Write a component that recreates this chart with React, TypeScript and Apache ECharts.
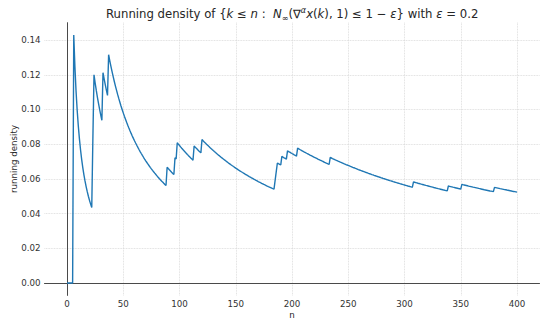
import React, { useEffect, useRef } from "react";
import * as echarts from "echarts";

// indices k (0..400) that belong to the set {k <= n : N_inf(...) <= 1 - eps}
const hitIndices = [6, 23, 24, 32, 37, 89, 96, 98, 113, 120, 185, 186, 187, 191, 196, 205, 234, 308, 339, 351, 380];
const nMax = 400;
const xTicks = [0, 50, 100, 150, 200, 250, 300, 350, 400];
const yTicks = [0, 0.02, 0.04, 0.06, 0.08, 0.1, 0.12, 0.14];

function buildRunningDensity(): [number, number][] {
  const hits = new Set(hitIndices);
  const out: [number, number][] = [];
  let count = 0;
  for (let n = 0; n <= nMax; n++) {
    if (hits.has(n)) count++;
    out.push([n, count / (n + 1)]);
  }
  return out;
}

export default function App() {
  const ref = useRef<HTMLDivElement>(null);
  useEffect(() => {
    if (!ref.current) return;
    const chart = echarts.init(ref.current, null, { renderer: "svg" });
    const data = buildRunningDensity();
    const font = "DejaVu Sans";
    const grid = { color: "#d4d4d4", type: "dotted" as const, width: 0.8 };
    chart.setOption({
      animation: false,
      backgroundColor: "#ffffff",
      title: {
        text:
          "Running density of {{i|k} ≤ {i|n} :  {i|N}{sub|∞}(∇{sup|α}{i|x}({i|k}), 1) ≤ 1 − {i|ε}} with {i|ε} = 0.2",
        left: 106,
        top: 6,
        padding: 0,
        textStyle: {
          fontFamily: font,
          fontSize: 11.7,
          fontWeight: "normal",
          color: "#262626",
          lineHeight: 16,
          rich: {
            i: { fontStyle: "italic", fontFamily: font, fontSize: 11.7, color: "#262626" },
            sub: { fontFamily: font, fontSize: 8, color: "#262626", verticalAlign: "bottom", lineHeight: 12 },
            sup: { fontFamily: font, fontSize: 8, fontStyle: "italic", color: "#262626", verticalAlign: "top", lineHeight: 10 },
          },
        },
      },
      grid: { left: 44.5, right: 10.5, top: 22.7, bottom: 25.6, containLabel: false, outerBoundsMode: "none" },
      xAxis: {
        type: "value",
        min: -20,
        max: 420,
        name: "n",
        nameLocation: "middle",
        nameGap: 15,
        nameMoveOverlap: false,
        nameTextStyle: { fontFamily: font, fontSize: 8.7, color: "#262626" },
        axisLine: { show: true, lineStyle: { color: "#4a4a4a", width: 1 } },
        axisTick: { show: false, customValues: xTicks },
        axisLabel: {
          customValues: xTicks,
          fontFamily: font,
          fontSize: 8.7,
          color: "#333333",
          margin: 4,
        },
        splitLine: { show: true, lineStyle: grid },
      },
      yAxis: {
        type: "value",
        min: -1 / 140,
        max: 0.15,
        name: "running density",
        nameLocation: "middle",
        nameRotate: 90,
        nameGap: 26,
        nameMoveOverlap: false,
        nameTextStyle: { fontFamily: font, fontSize: 8.7, color: "#262626" },
        axisLine: { show: true, lineStyle: { color: "#4a4a4a", width: 1 } },
        axisTick: { show: false, customValues: yTicks },
        axisLabel: {
          customValues: yTicks,
          fontFamily: font,
          fontSize: 8.7,
          color: "#333333",
          margin: 4,
          formatter: (v: number) => v.toFixed(2),
        },
        splitLine: { show: true, lineStyle: grid },
      },
      series: [
        {
          type: "line",
          data,
          showSymbol: false,
          symbol: "none",
          lineStyle: { color: "#1f77b4", width: 1.4 },
          z: 5,
        },
      ],
    });
    return () => chart.dispose();
  }, []);
  return <div ref={ref} style={{ width: 550, height: 321, position: "fixed", left: 0, top: 0 }} />;
}
